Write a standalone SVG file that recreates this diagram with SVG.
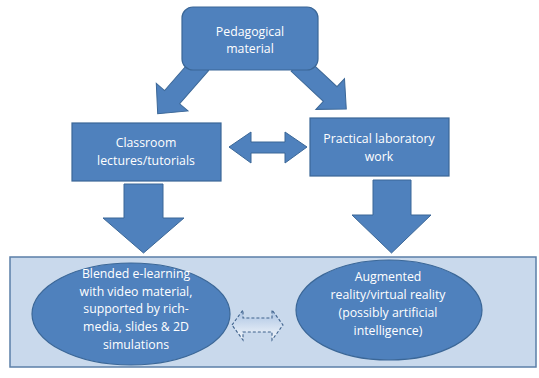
<svg xmlns="http://www.w3.org/2000/svg" width="539" height="378" viewBox="0 0 539 378">
  <style>
    .box { fill: #4f81bd; stroke: #3b6797; stroke-width: 1.2; }
    .arrow { fill: #4f81bd; stroke: #3b6797; stroke-width: 1; }
    .lbl { font-family: "Open Sans", "Liberation Sans", sans-serif; font-size: 12.3px; fill: #ffffff; text-anchor: middle; }
    .panel { fill: #c9d9ec; stroke: #5b7fa8; stroke-width: 1.5; }
    .dashed { fill: url(#pale); stroke: #3f628c; stroke-width: 1.1; stroke-dasharray: 3 2; }
  </style>
  <defs>
    <linearGradient id="pale" x1="0" y1="0" x2="0" y2="1">
      <stop offset="0" stop-color="#a9c2e2"/>
      <stop offset="1" stop-color="#f4f8fc"/>
    </linearGradient>
    <!-- block arrow pointing along +x, length 66 -->
    <polygon id="diag" points="0,-10 44,-10 44,-21 66,0 44,21 44,10 0,10"/>
  </defs>

  <rect width="539" height="378" fill="#ffffff"/>

  <!-- lower panel -->
  <rect id="panel" class="panel" x="10" y="257" width="526" height="110"/>

  <g id="connectors">
    <use href="#diag" class="arrow" transform="translate(201,64) rotate(131)"/>
    <use href="#diag" class="arrow" transform="translate(298,64) rotate(43)"/>
    <polygon class="arrow" points="229,147 251,132 251,142 285,142 285,132 307,147 285,163 285,153 251,153 251,163"/>
    <polygon class="arrow" points="124,184 163,184 163,218 184,218 143.5,253 103,218 124,218"/>
    <polygon class="arrow" points="373,180 411,180 411,215 431,215 391.5,253 352,215 373,215"/>
    <polygon class="dashed" points="232,325 243,310 243,318 272,318 272,310 283,325 272,340 272,332 243,332 243,340"/>
  </g>

  <g id="pedagogical">
    <rect class="box" x="182" y="7" width="136" height="63" rx="11"/>
    <text class="lbl" x="250" y="36">Pedagogical</text>
    <text class="lbl" x="250" y="53">material</text>
  </g>

  <g id="classroom">
    <rect class="box" x="72" y="123" width="149" height="58"/>
    <text class="lbl" x="146" y="147">Classroom</text>
    <text class="lbl" x="146" y="165">lectures/tutorials</text>
  </g>

  <g id="practical">
    <rect class="box" x="310" y="118" width="139" height="58"/>
    <text class="lbl" x="379" y="143">Practical laboratory</text>
    <text class="lbl" x="379" y="161">work</text>
  </g>

  <g id="blended">
    <ellipse class="box" cx="131" cy="314" rx="99" ry="51"/>
    <text class="lbl" x="136" y="278">Blended e-learning</text>
    <text class="lbl" x="136" y="296">with video material,</text>
    <text class="lbl" x="136" y="313">supported by rich-</text>
    <text class="lbl" x="136" y="331">media, slides &amp; 2D</text>
    <text class="lbl" x="136" y="349">simulations</text>
  </g>

  <g id="augmented">
    <ellipse class="box" cx="389" cy="310" rx="93" ry="50"/>
    <text class="lbl" x="388" y="281">Augmented</text>
    <text class="lbl" x="388" y="299">reality/virtual reality</text>
    <text class="lbl" x="388" y="317">(possibly artificial</text>
    <text class="lbl" x="388" y="335">intelligence)</text>
  </g>
</svg>
